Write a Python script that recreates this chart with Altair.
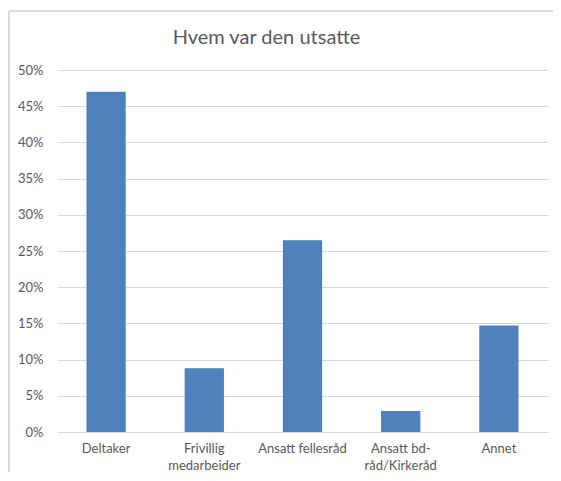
import altair as alt
import pandas as pd

categories = ["Deltaker", "Frivillig medarbeider", "Ansatt fellesråd", "Ansatt bd-råd/Kirkeråd", "Annet"]
values = [0.470, 0.088, 0.265, 0.029, 0.147]
y_ticks = [0, 0.05, 0.10, 0.15, 0.20, 0.25, 0.30, 0.35, 0.40, 0.45, 0.50]

df = pd.DataFrame({"kategori": categories, "andel": values})

label_expr = (
    "datum.value == 'Frivillig medarbeider' ? ['Frivillig', 'medarbeider'] : "
    "datum.value == 'Ansatt bd-råd/Kirkeråd' ? ['Ansatt bd-', 'råd/Kirkeråd'] : datum.value"
)

W, H = 491, 362

bars = alt.Chart(df).mark_bar(color="#4F81BD").encode(
    x=alt.X("kategori:N", sort=categories, title=None,
            scale=alt.Scale(paddingInner=0.6, paddingOuter=0.3),
            axis=alt.Axis(labelAngle=0, labelExpr=label_expr, ticks=False,
                          domain=True, domainColor="#D9D9D9", labelPadding=10,
                          labelLineHeight=17, labelFontSize=13, labelColor="#595959",
                          labelFont="Lato", grid=False)),
    y=alt.Y("andel:Q", title=None,
            scale=alt.Scale(domain=[0, 0.5], nice=False),
            axis=alt.Axis(values=y_ticks, format=".0%", ticks=False, domain=False,
                          gridColor="#D9D9D9", labelPadding=14, labelFontSize=13,
                          labelColor="#595959", labelFont="Lato")),
)

frame_left = alt.Chart(df).mark_rule(color="#D9D9D9", strokeWidth=1).encode(
    x=alt.value(-48), y=alt.value(-59), y2=alt.value(H + 60)
)
frame_top = alt.Chart(df).mark_rule(color="#D9D9D9", strokeWidth=1).encode(
    x=alt.value(-48), x2=alt.value(W + 5), y=alt.value(-59)
)

chart = alt.layer(frame_left, frame_top, bars).properties(
    width=W, height=H,
    title=alt.TitleParams("Hvem var den utsatte", font="Lato", fontSize=20,
                          fontWeight="normal", color="#595959", anchor="middle",
                          dx=-36, offset=-37),
    padding={"left": 49, "top": 62, "right": 5, "bottom": 40},
    autosize=alt.AutoSizeParams(type="none"),
).configure_view(stroke=None)

chart.save("out.html", embed_options={"renderer": "svg", "actions": False})
